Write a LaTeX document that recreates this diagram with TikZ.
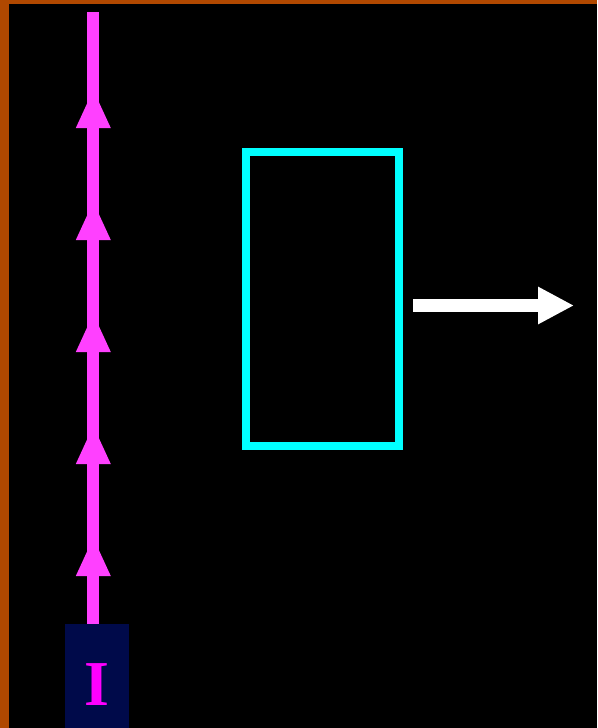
\documentclass[tikz,border=0pt]{standalone}
\usepackage{fontspec}
\setmainfont{Liberation Serif}
\usetikzlibrary{arrows.meta}
\definecolor{rim}{HTML}{B04800}
\definecolor{wirepink}{HTML}{FF40FF}
\definecolor{navy}{HTML}{000A4A}
\definecolor{letter}{HTML}{FF00FF}
\definecolor{aqua}{HTML}{00FFFF}
\begin{document}
\begin{tikzpicture}[x=1pt, y=-1pt]
	\tikzset{src/.style={rectangle, fill=navy, inner sep=0pt, minimum width=64pt, minimum height=104pt, text=letter, font=\fontsize{64}{64}\selectfont\bfseries},
		coil/.style={rectangle, draw=aqua, line width=8pt, inner sep=0pt, outer sep=0pt, minimum width=153pt, minimum height=294pt},
		wire/.style={draw=wirepink, line width=12pt},
		push/.style={draw=white, line width=12.5pt, -{Triangle[length=36pt, width=35pt]}}};

	\useasboundingbox (0,0) rectangle (597,728);
	\fill[rim] (0,0) rectangle (597,728);
	\fill[black] (9,4) rectangle (597,728);

	\node[src] (i) at (97,676) {\raisebox{-29pt}[0pt][0pt]{I}};
	\node[coil] (loop) at (322.5,299.4) {};
	\coordinate (top) at (93.3,12);
	\coordinate (tail) at (413,305.5);
	\coordinate (tip) at (574,305.5);

	\draw[wire] (i.north -| top) -- (top);
	\foreach \y in {128,240,352,464,576}
		\fill[wirepink] (93.3,\y-38) -- (110.8,\y) -- (75.8,\y) -- cycle;

	\draw[push] (tail) -- (tip);

\end{tikzpicture}
\end{document}
